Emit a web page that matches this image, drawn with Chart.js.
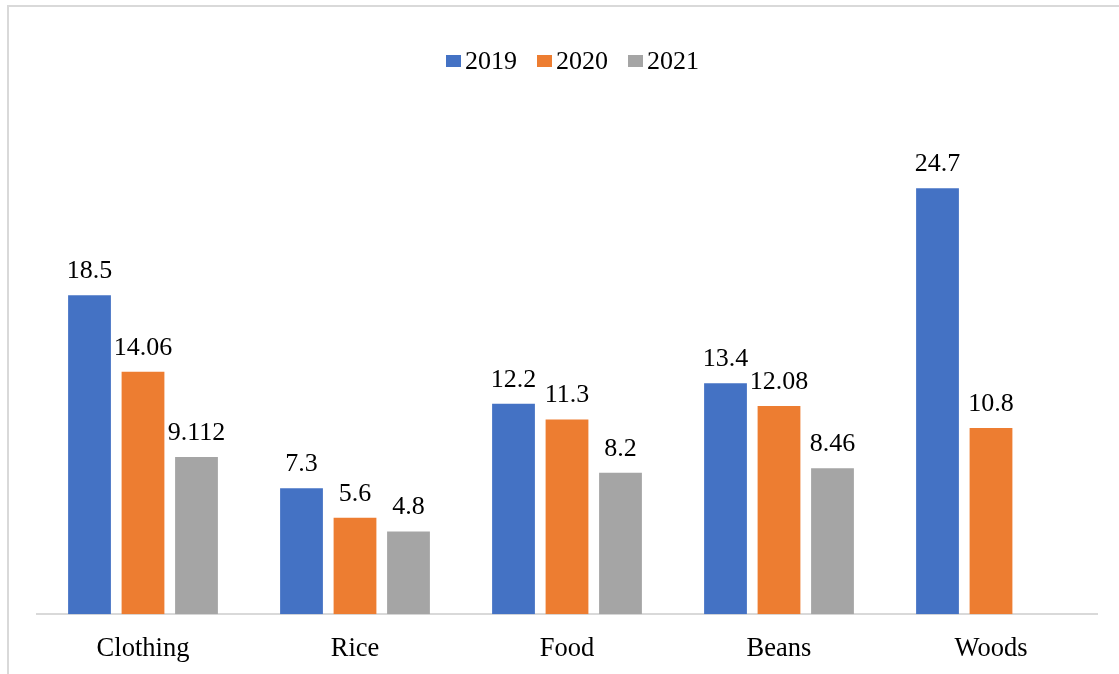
<!DOCTYPE html>
<html>
<head>
<meta charset="utf-8">
<script src="https://cdn.jsdelivr.net/npm/chart.js@4.4.1/dist/chart.umd.min.js"></script>
<style>
  html, body { margin: 0; padding: 0; background: #ffffff; overflow: hidden; }
  #wrap { position: relative; width: 1119px; height: 674px; overflow: hidden; }
  #frame { position: absolute; left: 7px; top: 5px; width: 1200px; height: 800px; border: 2px solid #d9d9d9; box-sizing: border-box; }
  #c { position: absolute; left: 0; top: 0; }
  #legend { position: absolute; left: 446px; top: 46px; height: 30px; display: flex; align-items: center;
            font-family: 'Liberation Serif', 'Times New Roman', serif; font-size: 26px; line-height: 30px; color: #000; }
  .item { display: flex; align-items: center; margin-right: 20px; }
  .box { width: 15px; height: 12px; margin-right: 4px; }
</style>
</head>
<body>
<div id="wrap">
  <div id="frame"></div>
  <canvas id="c" width="1119" height="674"></canvas>
  <div id="legend"></div>
</div>
<script>
const categories = ['Clothing', 'Rice', 'Food', 'Beans', 'Woods'];
const seriesNames = ['2019', '2020', '2021'];
const values2019 = [18.5, 7.3, 12.2, 13.4, 24.7];
const values2020 = [14.06, 5.6, 11.3, 12.08, 10.8];
const values2021 = [9.112, 4.8, 8.2, 8.46, null];
const seriesColors = ['#4472C4', '#ED7D31', '#A5A5A5'];

const FONT = "'Liberation Serif', 'Times New Roman', serif";

const allValues = [values2019, values2020, values2021];
const datasets = seriesNames.map((name, i) => ({
  label: name,
  data: allValues[i],
  backgroundColor: seriesColors[i],
  borderWidth: 0,
  categoryPercentage: 0.757,
  barPercentage: 0.8
}));

const valueLabels = {
  id: 'valueLabels',
  afterDatasetsDraw(chart) {
    const ctx = chart.ctx;
    ctx.save();
    ctx.font = '26px ' + FONT;
    ctx.fillStyle = '#000000';
    ctx.textAlign = 'center';
    ctx.textBaseline = 'alphabetic';
    chart.data.datasets.forEach((ds, di) => {
      const meta = chart.getDatasetMeta(di);
      meta.data.forEach((bar, idx) => {
        const v = ds.data[idx];
        if (v === null || v === undefined) return;
        ctx.fillText(String(v), bar.x, bar.y - 17);
      });
    });
    ctx.restore();
  }
};

new Chart(document.getElementById('c'), {
  type: 'bar',
  data: { labels: categories, datasets },
  options: {
    responsive: false,
    animation: false,
    layout: { padding: { left: 37, right: 22, top: 97, bottom: -10 } },
    plugins: { legend: { display: false }, tooltip: { enabled: false } },
    scales: {
      x: {
        grid: { display: false, drawTicks: false },
        border: { display: true, color: '#d9d9d9', width: 2 },
        ticks: { color: '#000000', font: { family: FONT, size: 26.5 }, padding: 19, maxRotation: 0 }
      },
      y: {
        display: false,
        min: 0,
        max: 30
      }
    }
  },
  plugins: [valueLabels]
});

// HTML legend built from the series arrays
const legend = document.getElementById('legend');
seriesNames.forEach((name, i) => {
  const item = document.createElement('div');
  item.className = 'item';
  const box = document.createElement('span');
  box.className = 'box';
  box.style.background = seriesColors[i];
  const txt = document.createElement('span');
  txt.textContent = name;
  item.appendChild(box);
  item.appendChild(txt);
  legend.appendChild(item);
});
</script>
</body>
</html>
